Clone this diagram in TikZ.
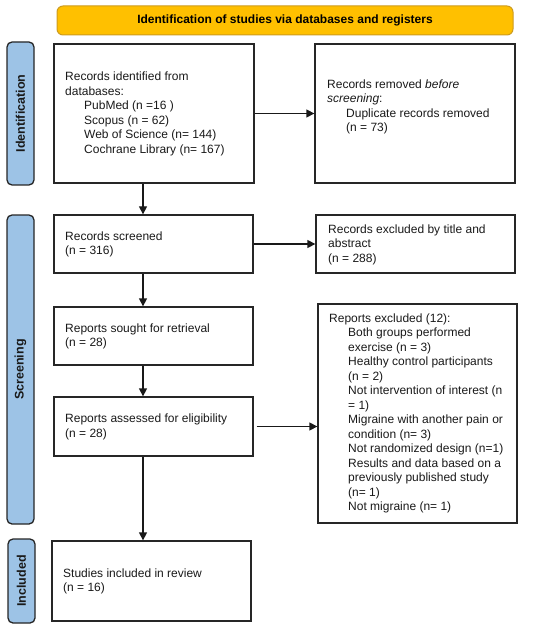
\documentclass[tikz,border=0pt]{standalone}
\usepackage{fontspec}
\setmainfont{Liberation Sans}
\usetikzlibrary{arrows.meta}
\definecolor{sideblue}{RGB}{157,195,230}
\definecolor{bannerfill}{RGB}{255,192,0}
\definecolor{bannerline}{RGB}{205,155,30}
\newcommand{\ind}{\hspace*{19pt}}
\begin{document}
\begin{tikzpicture}[x=1pt,y=-1pt,
  box/.style={draw=black!85, line width=1.3pt, inner sep=0pt},
  txt/.style={anchor=west, align=left, inner sep=0pt, text=black!90, font=\fontsize{12pt}{14.5pt}\selectfont},
  side/.style={draw=black!85, fill=sideblue, rounded corners=5pt, line width=1.3pt, inner sep=0pt},
  sidetxt/.style={rotate=90, inner sep=0pt, text=black!90, font=\bfseries\fontsize{12.5pt}{15pt}\selectfont},
  arr/.style={line width=1.3pt, draw=black!90, -{Triangle[length=8pt,width=8pt]}}]
\useasboundingbox (0,0) rectangle (550,628);

% banner
\node[draw=bannerline, fill=bannerfill, rounded corners=6pt, line width=1pt,
  minimum width=456pt, minimum height=29pt, inner sep=0pt,
  font=\bfseries\fontsize{12pt}{14.5pt}\selectfont] (banner) at (285,20.5)
  {Identification of studies via databases and registers};

% side bars
\node[side, minimum width=27pt, minimum height=143pt] (idside) at (20.5,113.5) {};
\node[sidetxt] (idlab) at (idside.center) {Identification};
\node[side, minimum width=27pt, minimum height=309pt] (scrside) at (20.5,369.5) {};
\node[sidetxt] (scrlab) at (scrside.center) {Screening};
\node[side, minimum width=27pt, minimum height=84pt] (incside) at (21.5,581) {};
\node[sidetxt] (inclab) at (incside.center) {Included};

% boxes
\node[box, minimum width=200pt, minimum height=139pt] (b1) at (154,113.5) {};
\node[box, minimum width=200pt, minimum height=139pt] (b2) at (415,113.5) {};
\node[box, minimum width=199pt, minimum height=58pt] (scr) at (153.5,244) {};
\node[box, minimum width=199pt, minimum height=58pt] (exc) at (415.5,244) {};
\node[box, minimum width=199pt, minimum height=58pt] (sought) at (153.5,336) {};
\node[box, minimum width=199pt, minimum height=219pt] (rex) at (417.5,413.5) {};
\node[box, minimum width=199pt, minimum height=59pt] (assess) at (153.5,426.5) {};
\node[box, minimum width=199pt, minimum height=80pt] (stud) at (151.5,581) {};

% texts
\node[txt] (t1) at (65,114) {Records identified from\\databases:\\\ind PubMed (n =16 )\\\ind Scopus (n = 62)\\\ind Web of Science (n= 144)\\\ind Cochrane Library (n= 167)};
\node[txt] (t2) at (327,107) {Records removed \textit{before}\\\textit{screening}:\\\ind Duplicate records removed\\\ind (n = 73)};
\node[txt] (t3) at (65,244.5) {Records screened\\(n = 316)};
\node[txt] (t4) at (328,244.5) {Records excluded by title and\\abstract\\(n = 288)};
\node[txt] (t5) at (65,336.5) {Reports sought for retrieval\\(n = 28)};
\node[txt] (t6) at (329,413.5) {Reports excluded (12):\\\ind Both groups performed\\\ind exercise (n = 3)\\\ind Healthy control participants\\\ind (n = 2)\\\ind Not intervention of interest (n\\\ind = 1)\\\ind Migraine with another pain or\\\ind condition (n= 3)\\\ind Not randomized design (n=1)\\\ind Results and data based on a\\\ind previously published study\\\ind (n= 1)\\\ind Not migraine (n= 1)};
\node[txt] (t7) at (65,427) {Reports assessed for eligibility\\(n = 28)};
\node[txt] (t8) at (63,581.5) {Studies included in review\\(n = 16)};

% connectors
\coordinate (ax) at (143,0);
\draw[arr] (b1.east) -- (b2.west);
\draw[arr] (scr.east) -- (exc.west);
\draw[arr] ([xshift=3pt]assess.east) -- (assess.east -| rex.west);
\draw[arr] (b1.south -| ax) -- (scr.north -| ax);
\draw[arr] (scr.south -| ax) -- (sought.north -| ax);
\draw[arr] (sought.south -| ax) -- (assess.north -| ax);
\draw[arr] (assess.south -| ax) -- (stud.north -| ax);
\end{tikzpicture}
\end{document}
